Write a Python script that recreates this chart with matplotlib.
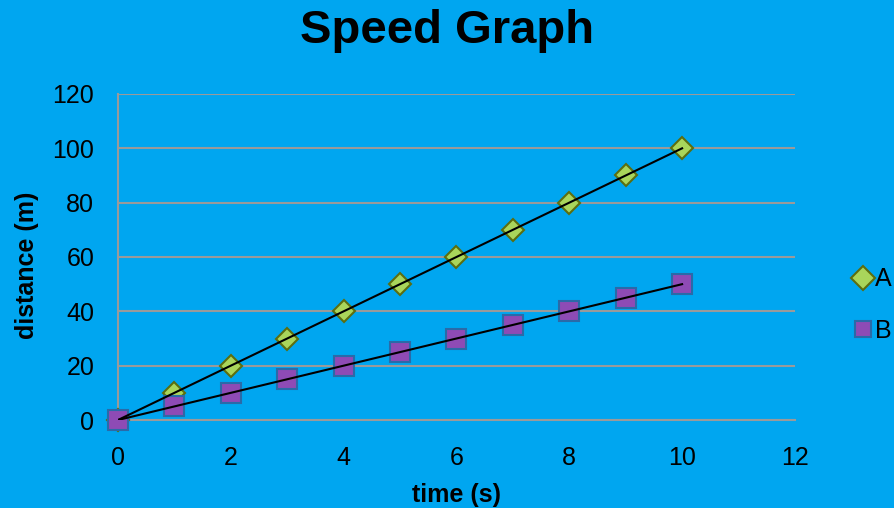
import matplotlib
matplotlib.use("Agg")
import matplotlib.pyplot as plt
from matplotlib.lines import Line2D

plt.rcParams["font.family"] = ["Liberation Sans", "DejaVu Sans"]

time_s = [0, 1, 2, 3, 4, 5, 6, 7, 8, 9, 10]
dist_a = [0, 10, 20, 30, 40, 50, 60, 70, 80, 90, 100]
dist_b = [0, 5, 10, 15, 20, 25, 30, 35, 40, 45, 50]

bg = "#00a6f0"
grid_c = "#9a9a9a"

fig = plt.figure(figsize=(8.95, 5.08), dpi=100, facecolor=bg)
ax = fig.add_axes([0.1318, 0.1732, 0.7564, 0.6418])
ax.set_facecolor(bg)

ax.plot(time_s, dist_a, linestyle="none", marker="D", markersize=11, clip_on=False,
        markerfacecolor="#a9d55b", markeredgecolor="#5c6e10", markeredgewidth=1.5, zorder=3)
ax.plot(time_s, dist_b, linestyle="none", marker="s", markersize=14, clip_on=False,
        markerfacecolor="#8e4bb5", markeredgecolor="#2a6aa8", markeredgewidth=1.5, zorder=3)
ax.plot([time_s[0], time_s[-1]], [dist_a[0], dist_a[-1]], color="black", lw=1.5, zorder=4)
ax.plot([time_s[0], time_s[-1]], [dist_b[0], dist_b[-1]], color="black", lw=1.5, zorder=4)

ax.set_xlim(0, 12)
ax.set_ylim(0, 120)
ax.set_xticks(range(0, 13, 2))
ax.set_yticks(range(0, 121, 20))
ax.grid(axis="y", color=grid_c, lw=1.5)
ax.set_axisbelow(True)
for s in ["top", "right"]:
    ax.spines[s].set_visible(False)
for s in ["left", "bottom"]:
    ax.spines[s].set_color(grid_c)
    ax.spines[s].set_linewidth(1.5)
ax.tick_params(length=0, labelsize=18)
ax.tick_params(axis="x", pad=19)
ax.tick_params(axis="y", pad=17)

fig.text(457 / 895, 1 - 495 / 508, "time (s)", ha="center", va="center",
         fontsize=18, fontweight="bold")
fig.text(27 / 895, 1 - 265 / 508, "distance (m)", ha="center", va="center",
         rotation=90, fontsize=18, fontweight="bold")
fig.text(0.5, 1 - 31 / 508, "Speed Graph", ha="center", va="center",
         fontsize=34, fontweight="bold")

handles = [
    Line2D([], [], linestyle="none", marker="D", markersize=12,
           markerfacecolor="#a9d55b", markeredgecolor="#5c6e10", markeredgewidth=1.5),
    Line2D([], [], linestyle="none", marker="s", markersize=12,
           markerfacecolor="#8e4bb5", markeredgecolor="#2a6aa8", markeredgewidth=1.5),
]
fig.legend(handles, ["A", "B"], loc="center left", bbox_to_anchor=(0.9416, 0.3996),
           frameon=False, fontsize=18, handlelength=0.6, handletextpad=0.2,
           labelspacing=1.1, borderpad=0)

fig.savefig("out.png", dpi=100, facecolor=bg)
